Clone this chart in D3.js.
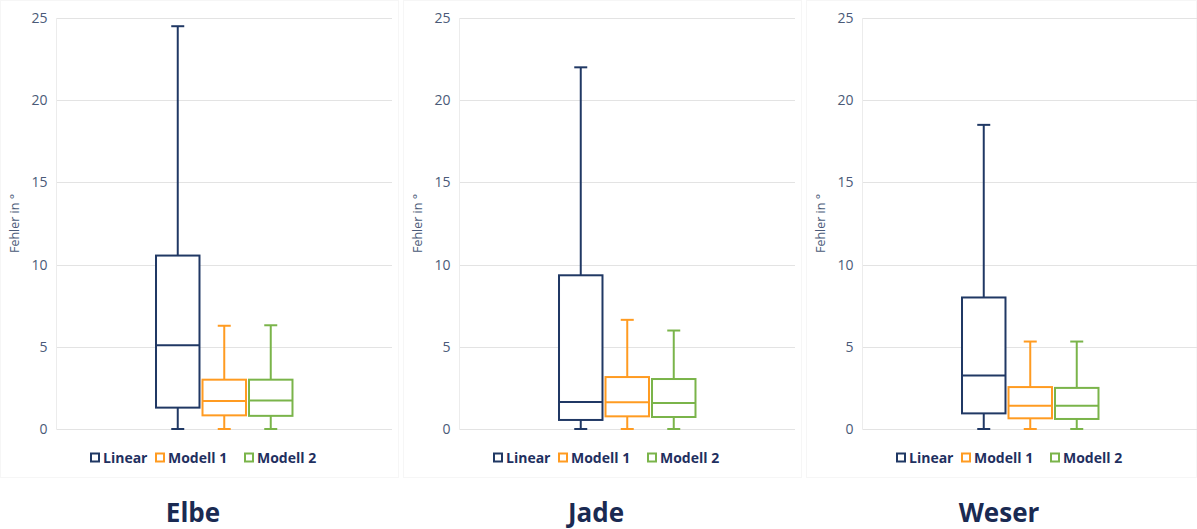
<!DOCTYPE html>
<html><head><meta charset="utf-8">
<script src="https://cdn.jsdelivr.net/npm/d3@7"></script>
<style>
html,body{margin:0;padding:0;background:#fff;}
text{font-family:"Open Sans","Lato",sans-serif;}
</style></head>
<body>
<svg id="chart" width="1197" height="529"></svg>
<script>
// ---- data ----
const rivers = ["Elbe", "Jade", "Weser"];
const seriesNames = ["Linear", "Modell 1", "Modell 2"];
const yTicks = [0, 5, 10, 15, 20, 25];
const axisTitle = "Fehler in °";

const linearMin = [0, 0, 0];
const linearQ1 = [1.3, 0.55, 0.95];
const linearMed = [5.1, 1.64, 3.26];
const linearQ3 = [10.55, 9.35, 8.0];
const linearMax = [24.5, 22.0, 18.5];

const modell1Min = [0, 0, 0];
const modell1Q1 = [0.83, 0.77, 0.65];
const modell1Med = [1.7, 1.62, 1.42];
const modell1Q3 = [3.0, 3.16, 2.55];
const modell1Max = [6.28, 6.64, 5.32];

const modell2Min = [0, 0, 0];
const modell2Q1 = [0.8, 0.73, 0.61];
const modell2Med = [1.74, 1.58, 1.42];
const modell2Q3 = [3.0, 3.04, 2.5];
const modell2Max = [6.31, 5.99, 5.32];

const colors = ["#203864", "#ff9b21", "#7ab44a"];

// ---- build ----
const stats = [
  {min: linearMin, q1: linearQ1, med: linearMed, q3: linearQ3, max: linearMax},
  {min: modell1Min, q1: modell1Q1, med: modell1Med, q3: modell1Q3, max: modell1Max},
  {min: modell2Min, q1: modell2Q1, med: modell2Med, q3: modell2Q3, max: modell2Max}
];

const svg = d3.select("#chart");
const panelX = d3.scaleBand().domain(rivers).range([-1, 1208]).paddingInner(0);
const panelW = 398;
const plotL = 57.5, plotR = 393;
const y = d3.scaleLinear().domain([0, 25]).range([429, 18]);

rivers.forEach((river, ri) => {
  const x0 = Math.round(panelX(river));
  const g = svg.append("g").attr("transform", `translate(${x0},0)`);

  // panel border
  g.append("rect").attr("x", 1.5).attr("y", 0.5)
    .attr("width", Math.min(panelW, 1197 - x0 - 2)).attr("height", 477)
    .attr("fill", "none").attr("stroke", "#f6f6f6").attr("stroke-width", 1);

  // grid
  const grid = g.append("g");
  grid.selectAll("line").data(yTicks).join("line")
    .attr("x1", plotL).attr("x2", plotR)
    .attr("y1", d => Math.round(y(d)) + 0.5).attr("y2", d => Math.round(y(d)) + 0.5)
    .attr("stroke", "#e3e3e3").attr("stroke-width", 1);
  g.append("line").attr("x1", plotL).attr("x2", plotL)
    .attr("y1", y(25)).attr("y2", y(0) + 0.5)
    .attr("stroke", "#ececec").attr("stroke-width", 1);

  // y axis labels via d3 axis
  const axis = d3.axisLeft(y).tickValues(yTicks).tickSize(0).tickPadding(9);
  const ag = g.append("g").attr("transform", `translate(${plotL},0)`).call(axis);
  ag.select(".domain").remove();
  ag.selectAll("text").attr("fill", "#4a5a78").attr("font-size", 14)
    .attr("font-family", "'Open Sans',sans-serif");

  // axis title
  g.append("text").attr("transform", `translate(20,${(y(0) + y(25)) / 2}) rotate(-90)`)
    .attr("text-anchor", "middle").attr("fill", "#4a5a78").attr("font-size", 12.5)
    .text(axisTitle);

  // series band scale
  const xs = d3.scaleBand().domain(seriesNames).range([plotL, plotR])
    .paddingInner(0.065).paddingOuter(2.14);
  const bw = xs.bandwidth();
  const capW = 13;

  seriesNames.forEach((s, si) => {
    const st = stats[si];
    const c = colors[si];
    const bx = xs(s), cx = bx + bw / 2;
    const sg = g.append("g").attr("stroke", c).attr("stroke-width", 2).attr("fill", "none");
    // whiskers
    sg.append("line").attr("x1", cx).attr("x2", cx).attr("y1", y(st.max[ri])).attr("y2", y(st.q3[ri]));
    sg.append("line").attr("x1", cx).attr("x2", cx).attr("y1", y(st.q1[ri])).attr("y2", y(st.min[ri]));
    sg.append("line").attr("x1", cx - capW / 2).attr("x2", cx + capW / 2).attr("y1", y(st.max[ri])).attr("y2", y(st.max[ri]));
    sg.append("line").attr("x1", cx - capW / 2).attr("x2", cx + capW / 2).attr("y1", y(st.min[ri])).attr("y2", y(st.min[ri]));
    // box
    sg.append("rect").attr("x", bx).attr("y", y(st.q3[ri]))
      .attr("width", bw).attr("height", y(st.q1[ri]) - y(st.q3[ri])).attr("fill", "#fff");
    sg.append("line").attr("x1", bx).attr("x2", bx + bw).attr("y1", y(st.med[ri])).attr("y2", y(st.med[ri]));
  });

  // legend
  const lg = g.append("g").attr("transform", "translate(91,458)");
  const legendOffsets = [0, 65, 154];
  seriesNames.forEach((s, si) => {
    const it = lg.append("g").attr("transform", `translate(${legendOffsets[si]},0)`);
    it.append("rect").attr("x", 1).attr("y", -4.5).attr("width", 8).attr("height", 8)
      .attr("fill", "none").attr("stroke", colors[si]).attr("stroke-width", 2);
    it.append("text").attr("x", 13).attr("y", 5).attr("font-size", 14)
      .attr("font-weight", "bold").attr("fill", "#1f3060").text(s);
  });

  // title
  g.append("text").attr("x", 194).attr("y", 522).attr("text-anchor", "middle")
    .attr("font-size", 26).attr("font-weight", "bold").attr("fill", "#1a2a52").text(river);
});
</script>
</body></html>
